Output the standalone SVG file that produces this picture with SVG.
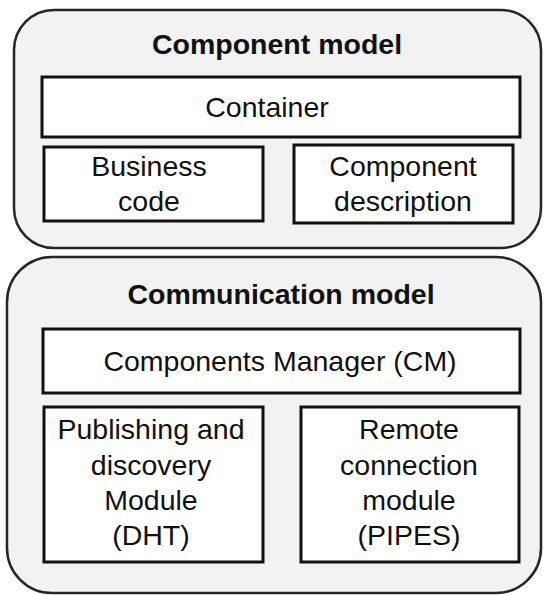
<svg xmlns="http://www.w3.org/2000/svg" width="544" height="595" viewBox="0 0 544 595">
<style>
.outer{fill:#f2f2f2;stroke:#262626;stroke-width:2.5}
.box{fill:#ffffff;stroke:#111111;stroke-width:3}
.t{font-family:"Liberation Sans",Arial,sans-serif;font-size:28.5px;fill:#111111;text-anchor:middle}
.h{font-family:"Liberation Sans",Arial,sans-serif;font-size:28.5px;font-weight:bold;fill:#111111;text-anchor:middle}
</style>
<rect width="544" height="595" fill="#ffffff"/>
<g id="component-model">
<rect class="outer" x="14" y="10" width="527" height="238" rx="40" ry="40"/>
<text class="h" x="277" y="54">Component model</text>
</g>
<g id="container">
<rect class="box" x="42" y="77" width="478" height="60"/>
<text class="t" x="267" y="117">Container</text>
</g>
<g id="business-code">
<rect class="box" x="44" y="147" width="219" height="74"/>
<text class="t" x="149" y="176">Business</text>
<text class="t" x="149" y="211">code</text>
</g>
<g id="component-description">
<rect class="box" x="294" y="145" width="219" height="78"/>
<text class="t" x="403" y="176">Component</text>
<text class="t" x="403" y="211">description</text>
</g>
<g id="communication-model">
<rect class="outer" x="7" y="257" width="534" height="336" rx="45" ry="45"/>
<text class="h" x="281" y="304">Communication model</text>
</g>
<g id="components-manager">
<rect class="box" x="43" y="329" width="477" height="64"/>
<text class="t" x="280" y="371">Components Manager (CM)</text>
</g>
<g id="publishing-discovery">
<rect class="box" x="44" y="407" width="219" height="155"/>
<text class="t" x="151" y="439">Publishing and</text>
<text class="t" x="151" y="475">discovery</text>
<text class="t" x="151" y="510">Module</text>
<text class="t" x="151" y="545">(DHT)</text>
</g>
<g id="remote-connection">
<rect class="box" x="301" y="407" width="218" height="155"/>
<text class="t" x="409" y="439">Remote</text>
<text class="t" x="409" y="475">connection</text>
<text class="t" x="409" y="510">module</text>
<text class="t" x="409" y="545">(PIPES)</text>
</g>
<g id="connectors"></g>
</svg>
